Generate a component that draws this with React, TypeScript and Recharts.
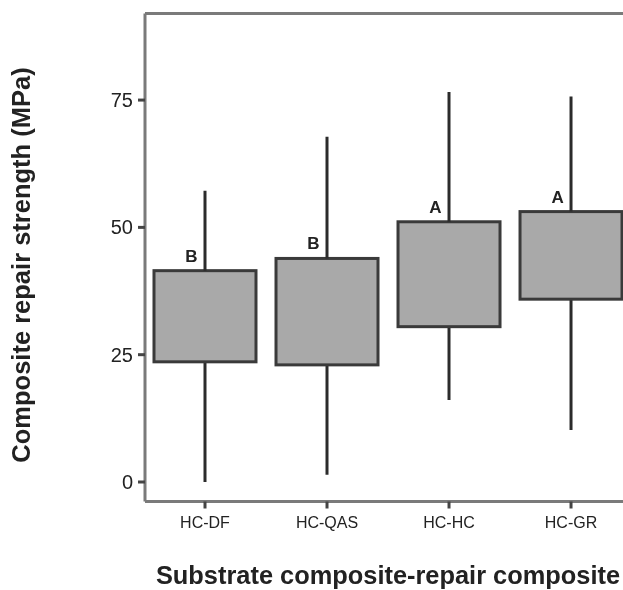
import { Bar, ComposedChart, Label, ReferenceLine, XAxis, YAxis } from 'recharts'

// box plot values (MPa)
const categories = ['HC-DF', 'HC-QAS', 'HC-HC', 'HC-GR']
const minValues = [0, 1.4, 16.1, 10.2]
const q1Values = [23.6, 23.0, 30.5, 35.9]
const q3Values = [41.5, 43.9, 51.1, 53.1]
const maxValues = [57.2, 67.8, 76.6, 75.7]
const groupLetters = ['B', 'B', 'A', 'A']
const yTicks = [0, 25, 50, 75]

const FONT = '"Liberation Sans", Arial, Helvetica, sans-serif'
const Y_MAX = 92

// stacked pieces: invisible base, lower whisker, box, upper whisker
const data = categories.map((name, i) => ({
  pos: i + 1,
  name,
  base: minValues[i],
  lower: q1Values[i] - minValues[i],
  box: q3Values[i] - q1Values[i],
  upper: maxValues[i] - q3Values[i],
}))

function Empty() {
  return <g />
}

function Whisker(props: any) {
  const { x, y, width, height } = props
  const cx = x + width / 2
  return <line x1={cx} x2={cx} y1={y} y2={y + height} stroke="#2b2b2b" strokeWidth={3} />
}

function Box(props: any) {
  const { x, y, width, height, index } = props
  return (
    <g>
      <rect x={x} y={y} width={width} height={height} fill="#a9a9a9" stroke="#3a3a3a" strokeWidth={3} />
      <text
        x={x + width / 2 - 13.5}
        y={y - 9}
        textAnchor="middle"
        fontFamily={FONT}
        fontWeight="bold"
        fontSize={17}
        fill="#222"
      >
        {groupLetters[index]}
      </text>
    </g>
  )
}

export default function App() {
  return (
    // fixed so the chart can run to the window edge without scrollbars
    <div style={{ position: 'fixed', left: 8, top: 8 }}>
      <ComposedChart width={615} height={582} data={data} margin={{ top: 5.5, right: 0, bottom: 0, left: 0 }}>
        <XAxis
          dataKey="pos"
          type="number"
          domain={[0.5082, 4.426]}
          allowDataOverflow
          ticks={[1, 2, 3, 4]}
          interval={0}
          tickFormatter={(v: number) => categories[v - 1]}
          height={88.5}
          tickSize={7}
          tickMargin={8}
          axisLine={{ stroke: '#7a7a7a', strokeWidth: 3 }}
          tickLine={{ stroke: '#444', strokeWidth: 3 }}
          tick={{ fill: '#222', fontSize: 16, fontFamily: FONT }}
        >
          <Label
            content={() => (
              <text x={380} y={576} textAnchor="middle" fontFamily={FONT} fontWeight="bold" fontSize={25.4} fill="#222">
                Substrate composite-repair composite
              </text>
            )}
          />
        </XAxis>
        <YAxis
          type="number"
          domain={[-3.83, Y_MAX]}
          allowDataOverflow
          ticks={yTicks}
          interval={0}
          width={137}
          tickSize={7}
          tickMargin={5}
          axisLine={{ stroke: '#7a7a7a', strokeWidth: 3 }}
          tickLine={{ stroke: '#444', strokeWidth: 3 }}
          tick={{ fill: '#222', fontSize: 20, fontFamily: FONT }}
        >
          <Label
            content={() => (
              <text
                x={22}
                y={257}
                transform="rotate(-90, 22, 257)"
                textAnchor="middle"
                fontFamily={FONT}
                fontWeight="bold"
                fontSize={25.5}
                fill="#222"
              >
                Composite repair strength (MPa)
              </text>
            )}
          />
        </YAxis>
        <ReferenceLine y={Y_MAX} stroke="#7a7a7a" strokeWidth={3} />
        <Bar dataKey="base" stackId="bp" barSize={102} shape={<Empty />} isAnimationActive={false} />
        <Bar dataKey="lower" stackId="bp" barSize={102} shape={<Whisker />} isAnimationActive={false} />
        <Bar dataKey="box" stackId="bp" barSize={102} shape={<Box />} isAnimationActive={false} />
        <Bar dataKey="upper" stackId="bp" barSize={102} shape={<Whisker />} isAnimationActive={false} />
      </ComposedChart>
    </div>
  )
}
